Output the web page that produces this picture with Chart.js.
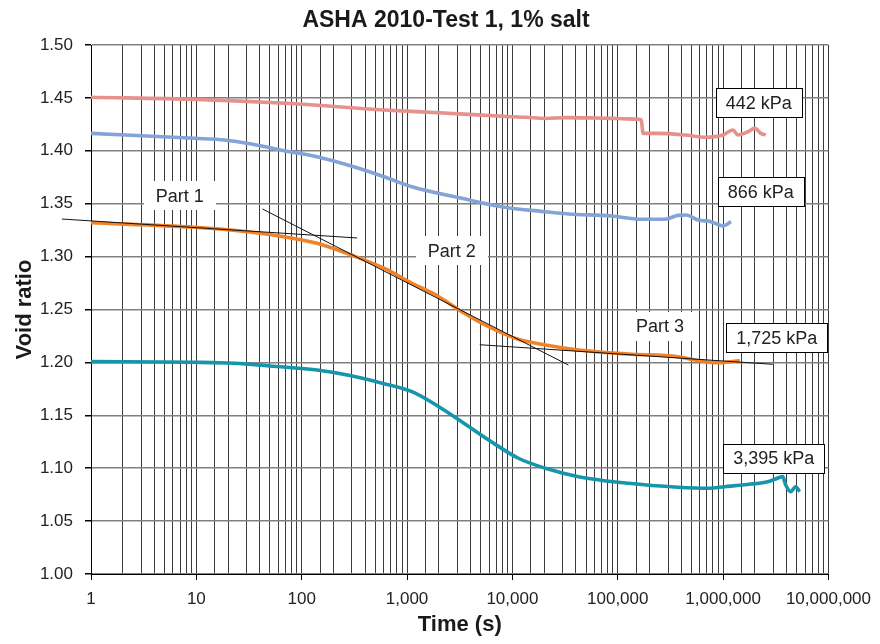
<!DOCTYPE html>
<html lang="en">
<head>
<meta charset="UTF-8">
<title>ASHA 2010-Test 1, 1% salt</title>
<script src="https://cdn.jsdelivr.net/npm/chart.js"></script>
<style>
  body { margin: 0; background: #fff; }
  #wrap { width: 880px; height: 644px; }
</style>
</head>
<body>
<div id="wrap"><canvas id="voidChart" width="880" height="644"></canvas></div>
<script>
// elapsed time (s) and void ratio for each load stage
const t442 = [1, 10, 70, 600, 2000, 9800, 13300, 20600, 31900, 61300, 101000, 156000, 167000, 174000, 241000, 435000, 673000, 995000, 1240000, 1380000, 1720000, 2000000, 2280000, 2540000];
const e442 = [1.4506, 1.4486, 1.4449, 1.4386, 1.436, 1.4322, 1.4317, 1.4306, 1.4314, 1.431, 1.4305, 1.4298, 1.4291, 1.4165, 1.4165, 1.4149, 1.4128, 1.4149, 1.4197, 1.4149, 1.418, 1.4213, 1.4165, 1.4149];

const t866 = [1, 9.6, 18.5, 33.4, 68, 140, 295, 604, 1113, 3306, 7900, 20600, 34000, 86900, 167000, 281000, 373000, 445000, 578000, 767000, 995000, 1190000];
const e866 = [1.4165, 1.4118, 1.4102, 1.4064, 1.4001, 1.3944, 1.3856, 1.3755, 1.366, 1.3551, 1.3472, 1.3424, 1.3403, 1.3384, 1.3353, 1.3353, 1.339, 1.3393, 1.3346, 1.333, 1.329, 1.333];

const t1725 = [1, 9.6, 30.6, 68, 140, 295, 604, 1113, 2004, 3306, 5960, 11400, 20600, 42300, 126000, 373000, 496000, 893000, 1440000];
const e1725 = [1.332, 1.3277, 1.3235, 1.3188, 1.3126, 1.3015, 1.289, 1.2748, 1.2621, 1.2479, 1.2337, 1.2218, 1.2164, 1.2117, 1.2079, 1.2054, 1.2029, 1.1997, 1.2016];

const t3395 = [1, 9.6, 23, 47.3, 140, 295, 604, 1113, 2004, 3306, 5960, 11400, 20600, 42300, 126000, 373000, 718000, 1040000, 1830000, 2650000, 3090000, 3680000, 3930000, 4380000, 4880000, 5330000];
const e3395 = [1.2007, 1.2001, 1.1992, 1.1969, 1.1928, 1.1874, 1.1799, 1.1723, 1.1581, 1.1439, 1.1266, 1.1094, 1.0999, 1.092, 1.0857, 1.082, 1.081, 1.0825, 1.085, 1.0872, 1.0895, 1.092, 1.0841, 1.0778, 1.0825, 1.0778];

// straight-line fits for the three parts of the 1,725 kPa curve
const part1T = [0.53, 336];
const part1E = [1.3355, 1.3176];
const part2T = [42.4, 34000];
const part2E = [1.345, 1.1975];
const part3T = [4900, 2960000];
const part3E = [1.2167, 1.1982];

const stageNames = ['442 kPa', '866 kPa', '1,725 kPa', '3,395 kPa'];
const stageColors = ['#e6918c', '#84a3d6', '#f0832a', '#1696ab'];

// text notes placed in data space: [text, time, void ratio, boxed]
const notes = [
  ['Part 1', 6.95, 1.3573, false],
  ['Part 2', 2660, 1.3053, false],
  ['Part 3', 252000, 1.2344, false],
  [stageNames[0], 2180000, 1.4452, true],
  [stageNames[1], 2280000, 1.3611, true],
  [stageNames[2], 3230000, 1.2231, true],
  [stageNames[3], 3020000, 1.1096, true]
];

const chartTitle = 'ASHA 2010-Test 1, 1% salt';
const FONT = '"Liberation Sans", Arial, sans-serif';

function pts(ts, es) {
  return ts.map((t, i) => ({ x: t, y: es[i] }));
}
function isDecade(v) {
  const l = Math.log10(v);
  return Math.abs(l - Math.round(l)) < 1e-9;
}

function stage(i, ts, es) {
  return {
    label: stageNames[i],
    data: pts(ts, es),
    borderColor: stageColors[i],
    borderWidth: 3.6,
    pointRadius: 0,
    cubicInterpolationMode: 'monotone',
    order: 1
  };
}
function fitLine(ts, es) {
  return {
    label: 'fit',
    data: pts(ts, es),
    borderColor: '#111',
    borderWidth: 1,
    pointRadius: 0,
    clip: false,
    order: 0
  };
}

const notePlugin = {
  id: 'notes',
  afterDatasetsDraw(chart) {
    const { ctx, scales: { x, y } } = chart;
    ctx.save();
    ctx.font = '18px ' + FONT;
    ctx.textAlign = 'center';
    ctx.textBaseline = 'middle';
    notes.forEach(([text, t, e, boxed]) => {
      const px = x.getPixelForValue(t);
      const py = y.getPixelForValue(e);
      const w = Math.round(ctx.measureText(text).width + (boxed ? 20 : 24));
      const h = 29;
      const left = Math.round(px - w / 2), top = Math.round(py - h / 2);
      ctx.fillStyle = '#fff';
      ctx.fillRect(left, top, w, h);
      if (boxed) {
        ctx.strokeStyle = '#000';
        ctx.lineWidth = 1;
        ctx.strokeRect(left + 0.5, top + 0.5, w, h);
      }
      ctx.fillStyle = '#222';
      ctx.fillText(text, px, py + 1);
    });

    // heading over the plot
    ctx.font = 'bold 23px ' + FONT;
    ctx.fillStyle = '#1a1a1a';
    ctx.fillText(chartTitle, 446, 21);
    ctx.restore();
  }
};

new Chart(document.getElementById('voidChart'), {
  type: 'line',
  data: {
    datasets: [
      fitLine(part1T, part1E),
      fitLine(part2T, part2E),
      fitLine(part3T, part3E),
      stage(0, t442, e442),
      stage(1, t866, e866),
      stage(2, t1725, e1725),
      stage(3, t3395, e3395)
    ]
  },
  options: {
    responsive: false,
    animation: false,
    layout: { padding: { left: 0, right: 49, top: 45, bottom: 0 } },
    plugins: {
      legend: { display: false },
      tooltip: { enabled: false }
    },
    scales: {
      x: {
        type: 'logarithmic',
        min: 1,
        max: 10000000,
        afterFit: s => { s.height = 70; },
        border: { color: '#000', width: 1 },
        grid: {
          color: '#3c3c3c',
          lineWidth: 1,
          tickLength: 6,
          tickColor: c => (c.tick && isDecade(c.tick.value)) ? '#000' : 'rgba(0,0,0,0)'
        },
        ticks: {
          autoSkip: false,
          maxRotation: 0,
          padding: 9,
          color: '#222',
          font: { family: FONT, size: 17 },
          callback: v => isDecade(v) ? Number(v).toLocaleString('en-US') : ''
        },
        title: {
          display: true,
          text: 'Time (s)',
          color: '#1a1a1a',
          font: { family: FONT, size: 22, weight: 'bold' },
          padding: { top: 0, bottom: 6 }
        }
      },
      y: {
        min: 1.0,
        max: 1.5,
        afterFit: s => { s.width = 91; },
        border: { color: '#000', width: 1 },
        grid: {
          color: '#808080',
          lineWidth: 1.5,
          tickLength: 6,
          tickColor: '#000'
        },
        ticks: {
          stepSize: 0.05,
          padding: 12,
          color: '#222',
          font: { family: FONT, size: 17 },
          callback: v => Number(v).toFixed(2)
        },
        title: {
          display: true,
          text: 'Void ratio',
          color: '#1a1a1a',
          font: { family: FONT, size: 22, weight: 'bold' },
          padding: { top: 12, bottom: 12 }
        }
      }
    }
  },
  plugins: [notePlugin]
});
</script>
</body>
</html>
